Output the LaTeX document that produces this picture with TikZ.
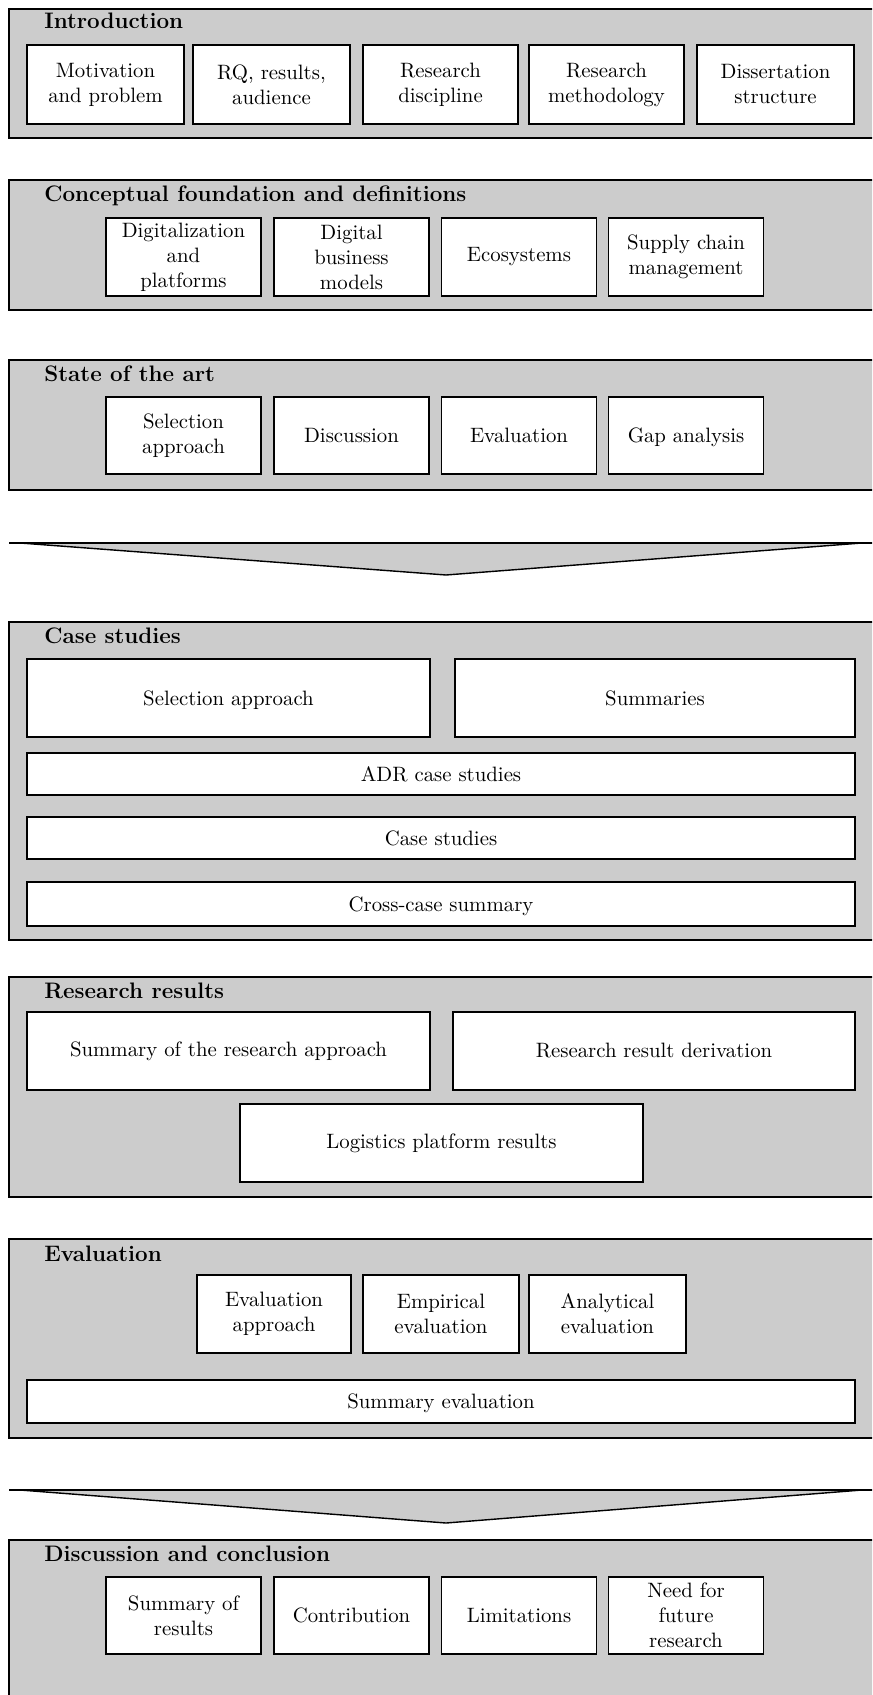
\documentclass[tikz,border=0pt]{standalone}
\usetikzlibrary{fit}
\definecolor{secgray}{gray}{0.8}
\begin{document}
\begin{tikzpicture}[x=0.5pt,y=-0.5pt]
\tikzset{
 outer/.style={draw, fill=secgray, line width=1pt, inner sep=0pt},
 inbox/.style={draw, fill=white, line width=0.9pt, inner sep=0pt, align=center, font=\fontsize{10.4}{12.5}\selectfont},
 nd/.style={text depth=0pt},
 sz/.style 2 args={minimum width=#1*0.5pt, minimum height=#2*0.5pt},
 sectitle/.style={anchor=base west, inner sep=0pt, font=\fontsize{11.2}{13}\selectfont\bfseries},
 arrowfill/.style={fill=secgray, draw, line width=0.7pt, line join=miter},
 arrowtop/.style={line width=1.3pt}
}
\clip (0,0) rectangle (872,1695);
\useasboundingbox (0,0) rectangle (872,1695);
% ---------- Introduction
\node[outer, fit={(9,9) (890,138)}] (intro) {};
\node[sectitle] (introt) at (44,29) {Introduction};
\node[inbox, sz={157}{79}] (i1) at (105.5,84.5) {Motivation\\and problem};
\node[inbox, sz={157}{79}] (i2) at (271.5,84.5) {RQ, results,\\audience};
\node[inbox, sz={155}{79}] (i3) at (440.5,84.5) {Research\\discipline};
\node[inbox, sz={155}{79}] (i4) at (606.5,84.5) {Research\\methodology};
\node[inbox, sz={157}{79}] (i5) at (775.5,84.5) {Dissertation\\structure};
% ---------- Conceptual foundation
\node[outer, fit={(9,180) (890,310)}] (concept) {};
\node[sectitle] (conceptt) at (44,202) {Conceptual foundation and definitions};
\node[inbox, sz={155}{78}] (c1) at (183.5,257) {Digitalization\\and\\platforms};
\node[inbox, sz={155}{78}] (c2) at (351.5,257) {Digital\\business\\models};
\node[inbox, sz={155}{78}] (c3) at (519,257) {Ecosystems};
\node[inbox, sz={155}{78}] (c4) at (686,257) {Supply chain\\management};
% ---------- State of the art
\node[outer, fit={(9,360) (890,490)}] (state) {};
\node[sectitle] (statet) at (44,382) {State of the art};
\node[inbox, sz={155}{77}] (s1) at (183.5,435.5) {Selection\\approach};
\node[inbox, sz={155}{77}] (s2) at (351.5,435.5) {Discussion};
\node[inbox, sz={155}{77}] (s3) at (519,435.5) {Evaluation};
\node[inbox, nd, sz={155}{77}] (s4) at (686,435.5) {Gap analysis};
% ---------- Arrow 1
\coordinate (a1l) at (20,543);
\coordinate (a1r) at (862,543);
\coordinate (a1t) at (446,575);
\coordinate (a1s) at (9,543);
\coordinate (a1e) at (880,543);
\draw[arrowfill] (a1l) -- (a1t) -- (a1r) -- cycle;
\draw[arrowtop] (a1s) -- (a1e);
% ---------- Case studies
\node[outer, fit={(9,622) (890,940)}] (cases) {};
\node[sectitle] (casest) at (44,643) {Case studies};
\node[inbox, nd, sz={403}{78}] (k1) at (228.5,698) {Selection approach};
\node[inbox, sz={400}{78}] (k2) at (655,698) {Summaries};
\node[inbox, sz={828}{42}] (k3) at (441,774) {ADR case studies};
\node[inbox, sz={828}{42}] (k4) at (441,838) {Case studies};
\node[inbox, nd, sz={828}{44}] (k5) at (441,904) {Cross-case summary};
% ---------- Research results
\node[outer, fit={(9,977) (890,1197)}] (results) {};
\node[sectitle] (resultst) at (44,998) {Research results};
\node[inbox, sz={403}{78}] (r1) at (228.5,1051) {Summary of the research approach};
\node[inbox, sz={402}{78}] (r2) at (654,1051) {Research result derivation};
\node[inbox, sz={403}{78}] (r3) at (441.5,1143) {Logistics platform results};
% ---------- Evaluation
\node[outer, fit={(9,1239) (890,1438)}] (evaluation) {};
\node[sectitle] (evaluationt) at (44,1261) {Evaluation};
\node[inbox, sz={154}{78}] (e1) at (274,1314) {Evaluation\\approach};
\node[inbox, sz={156}{78}] (e2) at (441,1314) {Empirical\\evaluation};
\node[inbox, sz={157}{78}] (e3) at (607.5,1314) {Analytical\\evaluation};
\node[inbox, nd, sz={828}{43}] (e4) at (441,1401.5) {Summary evaluation};
% ---------- Arrow 2
\coordinate (a2l) at (20,1490);
\coordinate (a2r) at (862,1490);
\coordinate (a2t) at (446,1523);
\coordinate (a2s) at (9,1490);
\coordinate (a2e) at (880,1490);
\draw[arrowfill] (a2l) -- (a2t) -- (a2r) -- cycle;
\draw[arrowtop] (a2s) -- (a2e);
% ---------- Discussion and conclusion
\node[outer, fit={(9,1540) (890,1720)}] (disc) {};
\node[sectitle] (disct) at (44,1561) {Discussion and conclusion};
\node[inbox, sz={155}{77}] (d1) at (183.5,1615.5) {Summary of\\results};
\node[inbox, sz={155}{77}] (d2) at (351.5,1615.5) {Contribution};
\node[inbox, sz={155}{77}] (d3) at (519,1615.5) {Limitations};
\node[inbox, sz={155}{77}] (d4) at (686,1615.5) {Need for\\future\\research};
\end{tikzpicture}
\end{document}
